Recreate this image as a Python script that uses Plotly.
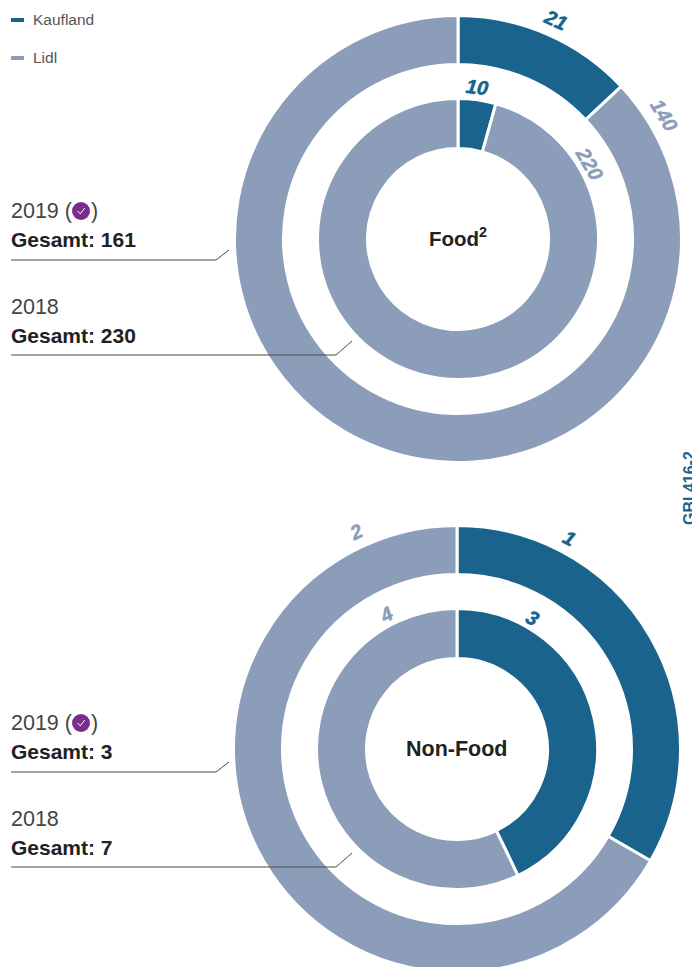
"""Food / Non-Food donut pairs, Kaufland vs Lidl, 2019 and 2018."""

from __future__ import annotations

import math

import plotly.graph_objects as go

SERIES = ["Kaufland", "Lidl"]
FOOD_2019 = [21, 140]
FOOD_2018 = [10, 220]
NONFOOD_2019 = [1, 2]
NONFOOD_2018 = [3, 4]
TOTALS = ["Gesamt: 161", "Gesamt: 230", "Gesamt: 3", "Gesamt: 7"]
SOURCE_TAG = "GBI 416-2"

_W, _H = 692, 980
_BLUE = "#19638C"
_GREY = "#8C9DBA"
_INK = "#3A3A3A"
_PURPLE = "#7B2D8E"
_SANS = "Liberation Sans, Arial, sans-serif"


def px(x: float) -> float:
    return x / _W


def py(y: float) -> float:
    return 1 - y / _H


def ring(values, cx, cy, outer, inner) -> go.Pie:
    # the white slice border eats half its width from the outer edge
    r = outer + 1.5
    return go.Pie(
        labels=SERIES,
        values=values,
        sort=False,
        direction="clockwise",
        rotation=0,
        hole=(inner - 1.5) / r,
        textinfo="none",
        hoverinfo="label+value",
        showlegend=False,
        marker=dict(colors=[_BLUE, _GREY], line=dict(color="white", width=3)),
        domain=dict(x=[px(cx - r), px(cx + r)], y=[py(cy + r), py(cy - r)]),
    )


def text(x, y, s, size=20, color=_INK, bold=False, anchor="left", angle=0, italic=False, shadow=None):
    if bold:
        s = f"<b>{s}</b>"
    if italic:
        s = f"<i>{s}</i>"
    font = dict(family=_SANS, size=size, color=color)
    if shadow:
        font["shadow"] = shadow
    # annotations sit about 2px in from their anchor
    if anchor == "left":
        x -= 2
    return dict(
        x=px(x), y=py(y), xref="paper", yref="paper", text=s, showarrow=False,
        xanchor=anchor, yanchor="middle", textangle=angle, font=font,
    )


def value_label(value, color, cx, cy, radius, deg):
    a = math.radians(deg)
    return text(cx + radius * math.sin(a), cy - radius * math.cos(a), str(value),
                size=20, color=color, bold=True, italic=True, anchor="center", angle=deg,
                shadow=f"0 0 1px {color}")


def leader(points) -> dict:
    path = "M " + " L ".join(f"{px(x)} {py(y)}" for x, y in points)
    return dict(type="path", xref="paper", yref="paper", path=path,
                line=dict(color="#4A4A4A", width=1), layer="above")


def badge(cx, cy) -> list[dict]:
    r = 9
    check = [(cx - 3.5, cy), (cx - 0.8, cy + 2.8), (cx + 3.8, cy - 3)]
    return [
        dict(type="circle", xref="paper", yref="paper", x0=px(cx - r), x1=px(cx + r),
             y0=py(cy + r), y1=py(cy - r), fillcolor=_PURPLE, line_width=0, layer="above"),
        dict(type="path", xref="paper", yref="paper",
             path="M " + " L ".join(f"{px(x)} {py(y)}" for x, y in check),
             line=dict(color="white", width=1), layer="above"),
    ]


fig = go.Figure()
for cx, cy, vals_2019, vals_2018 in [
    (458, 239, FOOD_2019, FOOD_2018),
    (457, 749, NONFOOD_2019, NONFOOD_2018),
]:
    fig.add_trace(ring(vals_2019, cx, cy, 222, 176))
    fig.add_trace(ring(vals_2018, cx, cy, 139, 92))

annotations = [
    text(33, 19, SERIES[0], size=15.5, color="#555555"),
    text(33, 57, SERIES[1], size=15.5, color="#555555"),
    text(458, 237, "Food<sup>2</sup>", size=20.5, color="#222222", bold=True, anchor="center"),
    text(456.5, 749, "Non-Food", size=21.5, color="#222222", bold=True, anchor="center"),
    text(689, 488, SOURCE_TAG, size=16, color=_BLUE, bold=True, anchor="center", angle=-90),
    # Food
    value_label(FOOD_2019[0], _BLUE, 458, 239, 240, 24),
    value_label(FOOD_2019[1], _GREY, 458, 239, 240, 59),
    value_label(FOOD_2018[0], _BLUE, 458, 239, 153, 7),
    value_label(FOOD_2018[1], _GREY, 458, 239, 151, 60),
    # Non-Food
    value_label(NONFOOD_2019[0], _BLUE, 457, 749, 239, 28),
    value_label(NONFOOD_2019[1], _GREY, 457, 749, 239, -25),
    value_label(NONFOOD_2018[0], _BLUE, 457, 749, 151, 30),
    value_label(NONFOOD_2018[1], _GREY, 457, 749, 152, -28),
]

shapes = [
    dict(type="rect", xref="paper", yref="paper", x0=px(11), x1=px(24), y0=py(22), y1=py(18),
         fillcolor=_BLUE, line_width=0),
    dict(type="rect", xref="paper", yref="paper", x0=px(11), x1=px(24), y0=py(60), y1=py(56),
         fillcolor=_GREY, line_width=0),
]

for top, total_2019, total_2018 in [(211, TOTALS[0], TOTALS[1]), (723, TOTALS[2], TOTALS[3])]:
    annotations += [
        text(11, top, "2019 (", size=21.5, color="#444444"),
        text(91, top, ")", size=21.5, color="#444444"),
        text(11, top + 28, total_2019, size=21, color="#222222", bold=True),
        text(11, top + 96, "2018", size=21.5, color="#444444"),
        text(11, top + 124, total_2018, size=21, color="#222222", bold=True),
    ]
    shapes += badge(81, top)
    shapes.append(leader([(11, top + 49), (216, top + 49), (229, top + 39)]))
    shapes.append(leader([(11, top + 144), (336, top + 144), (352, top + 130)]))

fig.update_layout(
    width=_W,
    height=_H,
    autosize=False,
    paper_bgcolor="white",
    margin=dict(l=0, r=0, t=0, b=0),
    showlegend=False,
    annotations=annotations,
    shapes=shapes,
)

fig.write_html(
    "out.html",
    config=dict(displayModeBar=False),
    post_script="document.body.style.margin='0';document.body.style.overflow='hidden';",
)
